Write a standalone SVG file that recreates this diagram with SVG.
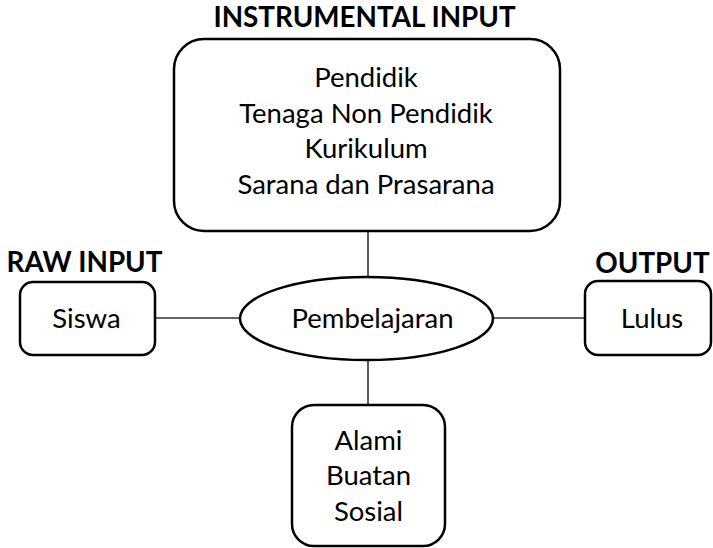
<svg xmlns="http://www.w3.org/2000/svg" width="713" height="548" viewBox="0 0 713 548">
<style>
.box{fill:#fff;stroke:#000;stroke-width:2.5}
.conn{stroke:#333;stroke-width:1.6;fill:none}
.t{font-family:Lato,"Liberation Sans",sans-serif;font-size:27.5px;fill:#000;text-anchor:middle}
.h{font-family:Lato,"Liberation Sans",sans-serif;font-size:27.8px;font-weight:bold;fill:#000;text-anchor:middle}
</style>
<rect width="713" height="548" fill="#fff"/>
<g id="connectors">
<line class="conn" x1="368" y1="231" x2="368" y2="277"/>
<line class="conn" x1="155" y1="318" x2="240" y2="318"/>
<line class="conn" x1="493" y1="318" x2="585" y2="318"/>
<line class="conn" x1="368" y1="360" x2="368" y2="405"/>
</g>
<g id="instrumental">
<text class="h" x="364.5" y="27">INSTRUMENTAL INPUT</text>
<rect class="box" x="174" y="39" width="386" height="192" rx="30"/>
<text class="t" x="366" y="87">Pendidik</text>
<text class="t" x="366" y="123">Tenaga Non Pendidik</text>
<text class="t" x="366" y="158">Kurikulum</text>
<text class="t" x="366" y="194">Sarana dan Prasarana</text>
</g>
<g id="raw">
<text class="h" x="84.5" y="272">RAW INPUT</text>
<rect class="box" x="20" y="282" width="135" height="73" rx="13"/>
<text class="t" x="86.5" y="328">Siswa</text>
</g>
<g id="process">
<ellipse class="box" cx="366.5" cy="318.5" rx="126.5" ry="41.5"/>
<text class="t" x="372.5" y="328">Pembelajaran</text>
</g>
<g id="output">
<text class="h" x="652.5" y="273">OUTPUT</text>
<rect class="box" x="585" y="281" width="126" height="74" rx="13"/>
<text class="t" x="652" y="328">Lulus</text>
</g>
<g id="environment">
<rect class="box" x="292" y="405" width="153" height="141" rx="22"/>
<text class="t" x="368.5" y="450">Alami</text>
<text class="t" x="368.5" y="485">Buatan</text>
<text class="t" x="368.5" y="521">Sosial</text>
</g>
</svg>
